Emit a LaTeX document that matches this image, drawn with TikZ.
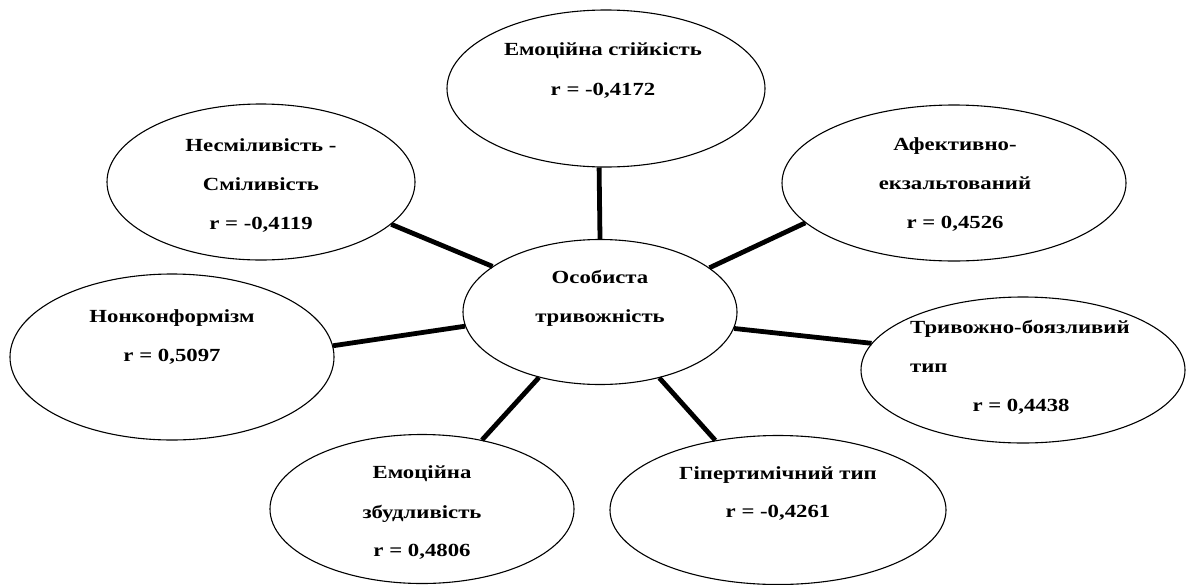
\documentclass[tikz,border=0pt]{standalone}
\usepackage{fontspec}
\setmainfont{Liberation Serif}
\newfontfamily\lblfont[FakeStretch=1.23]{Liberation Serif}
\usetikzlibrary{shapes.geometric}
\begin{document}
\begin{tikzpicture}[x=1pt,y=-1pt,
  oval/.style 2 args={draw, ellipse, line width=1.1pt, inner sep=0pt, minimum width=#1, minimum height=#2},
  txt/.style={anchor=base, inner sep=0pt, font=\lblfont\fontsize{18.5}{21}\selectfont\bfseries},
  ltxt/.style={txt, anchor=base west},
  link/.style={line width=4.8pt}]
\useasboundingbox (0,0) rectangle (1186,584);

% ellipses
\node[oval={318pt}{157pt}] (T) at (606,88.5) {};
\node[oval={308pt}{156pt}] (N) at (261,182) {};
\node[oval={344pt}{156pt}] (A) at (954,183) {};
\node[oval={324pt}{166pt}] (K) at (172,357) {};
\node[oval={274pt}{145pt}] (C) at (600,312) {};
\node[oval={324pt}{146pt}] (R) at (1023,370) {};
\node[oval={304pt}{149pt}] (B) at (422,509) {};
\node[oval={336pt}{149pt}] (G) at (778,510) {};

% texts
\node[txt] (t1) at (603,55) {Емоційна стійкість};
\node[txt] (t2) at (603,95) {r = -0,4172};

\node[txt] (n1) at (261,151) {Несміливість -};
\node[txt] (n2) at (261,190) {Сміливість};
\node[txt] (n3) at (261,229) {r = -0,4119};

\node[txt] (a1) at (955,150) {Афективно-};
\node[txt] (a2) at (955,189) {екзальтований};
\node[txt] (a3) at (955,228) {r = 0,4526};

\node[txt] (k1) at (172,322) {Нонконформізм};
\node[txt] (k2) at (172,361) {r = 0,5097};

\node[txt] (c1) at (600,283) {Особиста};
\node[txt] (c2) at (600,322) {тривожність};

\node[ltxt] (r1) at (910,333) {Тривожно-боязливий};
\node[ltxt] (r2) at (910,372) {тип};
\node[txt] (r3) at (1021,411) {r = 0,4438};

\node[txt] (b1) at (422,478) {Емоційна};
\node[txt] (b2) at (422,518) {збудливість};
\node[txt] (b3) at (422,556) {r = 0,4806};

\node[txt] (g1) at (778,479) {Гіпертимічний тип};
\node[txt] (g2) at (778,517) {r = -0,4261};

% connectors
\draw[link] (T.265.6) -- (C.90);
\draw[link] (N.342.5) -- (C.157.2);
\draw[link] (K.4.9) -- (C.186.9);
\draw[link] (B.49) -- (C.227.7);
\draw[link] (A.195.5) -- (C.22.8);
\draw[link] (R.170.5) -- (C.353.1);
\draw[link] (G.132) -- (C.312.3);
\end{tikzpicture}
\end{document}
